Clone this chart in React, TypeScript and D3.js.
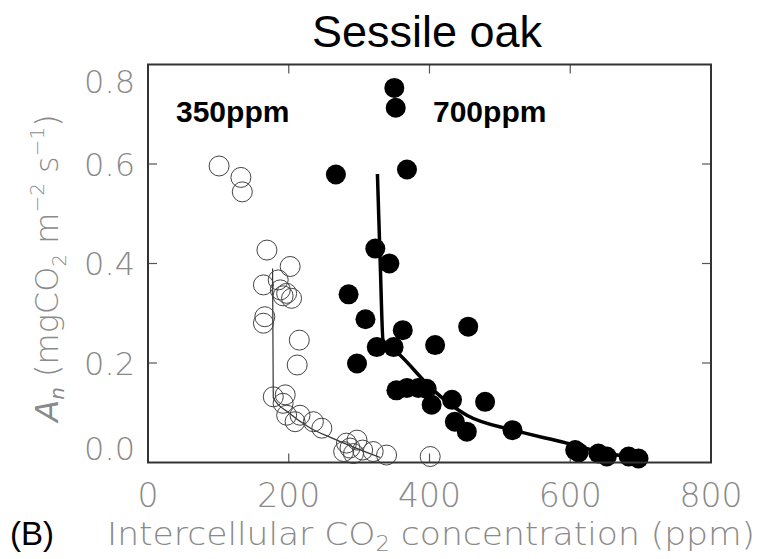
import React, { useRef, useEffect } from 'react';
import { select, scaleLinear, line, curveMonotoneX } from 'd3';

// ambient CO2 (350 ppm), open circles
const ambientCi = [101, 132, 134, 169, 202, 164, 185, 188, 197, 204, 192, 166, 164, 215, 212, 178, 195, 192, 197, 216, 209, 235, 247, 282, 297, 287, 278, 292, 305, 320, 339, 401];
const ambientAn = [0.596, 0.573, 0.544, 0.427, 0.394, 0.357, 0.367, 0.347, 0.34, 0.33, 0.335, 0.293, 0.28, 0.246, 0.196, 0.132, 0.136, 0.119, 0.095, 0.095, 0.082, 0.082, 0.069, 0.039, 0.045, 0.029, 0.022, 0.018, 0.025, 0.022, 0.015, 0.012];

// elevated CO2 (700 ppm), filled circles
const elevatedCi = [350, 352, 267, 368, 323, 343, 285, 309, 362, 455, 325, 349, 408, 297, 353, 368, 384, 396, 403, 432, 479, 436, 453, 518, 607, 612, 640, 652, 683, 697];
const elevatedAn = [0.753, 0.713, 0.579, 0.589, 0.43, 0.40, 0.338, 0.288, 0.266, 0.273, 0.232, 0.232, 0.236, 0.199, 0.145, 0.15, 0.15, 0.148, 0.116, 0.126, 0.122, 0.082, 0.062, 0.065, 0.025, 0.02, 0.018, 0.012, 0.012, 0.008];

// fitted curves
const ambientFitCi = [177, 178, 200, 230, 260, 292, 330];
const ambientFitAn = [0.39, 0.13, 0.1, 0.07, 0.05, 0.031, 0.01];
const elevatedFitCi = [326, 330, 334, 358, 405, 453, 519, 595, 640, 688];
const elevatedFitAn = [0.58, 0.40, 0.246, 0.216, 0.146, 0.095, 0.065, 0.039, 0.022, 0.01];

const xTicks = [0, 200, 400, 600, 800];
const yTicks = [0, 0.2, 0.4, 0.6, 0.8];
const yTickLabels = ['0.0', '0.2', '0.4', '0.6', '0.8'];

const W = 761, H = 559;
const margin = { left: 148, right: 50, top: 64.5, bottom: 96.5 };
const gray = '#8a8a8a';
const thinFont = '"DejaVu Sans", sans-serif';

export default function App() {
    const svgRef = useRef(null);

    useEffect(() => {
        const svg = select(svgRef.current);
        svg.selectAll('*').remove();

        const x = scaleLinear().domain([0, 800]).range([margin.left, W - margin.right]);
        const y = scaleLinear().domain([0, 0.8]).range([H - margin.bottom, margin.top]);

        const x0 = x(0), x1 = x(800), y0 = y(0), y1 = y(0.8);

        // ticks (inward, all four sides)
        const tk = 9;
        const ticks = svg.append('g').attr('stroke', '#555').attr('stroke-width', 1.2);
        xTicks.slice(1, -1).forEach(v => {
            ticks.append('line').attr('x1', x(v)).attr('x2', x(v)).attr('y1', y0).attr('y2', y0 - tk);
            ticks.append('line').attr('x1', x(v)).attr('x2', x(v)).attr('y1', y1).attr('y2', y1 + tk);
        });
        yTicks.slice(1, -1).forEach(v => {
            ticks.append('line').attr('x1', x0).attr('x2', x0 + tk).attr('y1', y(v)).attr('y2', y(v));
            ticks.append('line').attr('x1', x1).attr('x2', x1 - tk).attr('y1', y(v)).attr('y2', y(v));
        });

        // fitted lines
        const fit = line().x(d => x(d[0])).y(d => y(d[1])).curve(curveMonotoneX);
        svg.append('path')
            .attr('d', fit(ambientFitCi.map((c, i) => [c, ambientFitAn[i]])))
            .attr('fill', 'none').attr('stroke', '#333').attr('stroke-width', 1.2);
        svg.append('path')
            .attr('d', fit(elevatedFitCi.map((c, i) => [c, elevatedFitAn[i]])))
            .attr('fill', 'none').attr('stroke', '#000').attr('stroke-width', 3.5);

        // points
        svg.append('g').selectAll('circle')
            .data(ambientCi.map((c, i) => [c, ambientAn[i]]))
            .join('circle')
            .attr('cx', d => x(d[0])).attr('cy', d => y(d[1])).attr('r', 10)
            .attr('fill', 'none').attr('stroke', '#444').attr('stroke-width', 1);
        svg.append('g').selectAll('circle')
            .data(elevatedCi.map((c, i) => [c, elevatedAn[i]]))
            .join('circle')
            .attr('cx', d => x(d[0])).attr('cy', d => y(d[1])).attr('r', 10)
            .attr('fill', '#000');

        // frame
        svg.append('rect')
            .attr('x', x0).attr('y', y1).attr('width', x1 - x0).attr('height', y0 - y1)
            .attr('fill', 'none').attr('stroke', '#333').attr('stroke-width', 2);

        // tick labels
        svg.append('g').selectAll('text')
            .data(xTicks)
            .join('text')
            .attr('x', d => x(d)).attr('y', 507)
            .attr('text-anchor', 'middle')
            .attr('font-family', thinFont).attr('font-weight', 200)
            .attr('font-size', 33).attr('fill', gray)
            .text(d => d);
        svg.append('g').selectAll('text')
            .data(yTicks)
            .join('text')
            .attr('x', 135)
            .attr('y', d => Math.min(Math.max(y(d), y1 + 17), y0 - 14))
            .attr('dy', '0.36em')
            .attr('text-anchor', 'end')
            .attr('font-family', thinFont).attr('font-weight', 200)
            .attr('font-size', 32).attr('fill', gray)
            .text((d, i) => yTickLabels[i]);

        // series labels
        const lab = svg.append('g').attr('font-family', 'Liberation Sans, Arial, sans-serif')
            .attr('font-weight', 'bold').attr('font-size', 30).attr('fill', '#000');
        lab.append('text').attr('x', 176).attr('y', 122).text('350ppm');
        lab.append('text').attr('x', 433).attr('y', 122).text('700ppm');
    }, []);

    return (
        <div style={{ position: 'absolute', left: 0, top: 0 }}>
            <svg ref={svgRef} width={W} height={H} style={{ display: 'block', position: 'absolute', left: 0, top: 0 }} />
            <svg width={W} height={H} style={{ display: 'block', position: 'relative' }}>
                <text x={427} y={47} textAnchor="middle" fontFamily="Liberation Sans, Arial, sans-serif" fontSize={45} fill="#000">Sessile oak</text>
                <text x={10} y={545} fontFamily="Liberation Sans, Arial, sans-serif" fontSize={33} fill="#000">(B)</text>
                <text x={107} y={545} fontFamily={thinFont} fontWeight={200} fontSize={32} fill={gray} textLength={648} lengthAdjust="spacingAndGlyphs">
                    Intercellular CO<tspan fontSize={21} dy={6}>2</tspan><tspan dy={-6}> concentration (ppm)</tspan>
                </text>
                <text transform="translate(58,268) rotate(-90)" textAnchor="middle" fontFamily={thinFont} fontWeight={200} fontSize={32} fill={gray}>
                    <tspan fontStyle="italic">A</tspan>
                    <tspan fontSize={20} dy={6} fontStyle="italic">n</tspan>
                    <tspan dy={-6}> (mgCO</tspan>
                    <tspan fontSize={20} dy={8}>2</tspan>
                    <tspan dy={-8}> m</tspan>
                    <tspan fontSize={20} dy={-14}>−2</tspan>
                    <tspan dy={14}> s</tspan>
                    <tspan fontSize={20} dy={-14}>−1</tspan>
                    <tspan dy={14}>)</tspan>
                </text>
            </svg>
        </div>
    );
}
